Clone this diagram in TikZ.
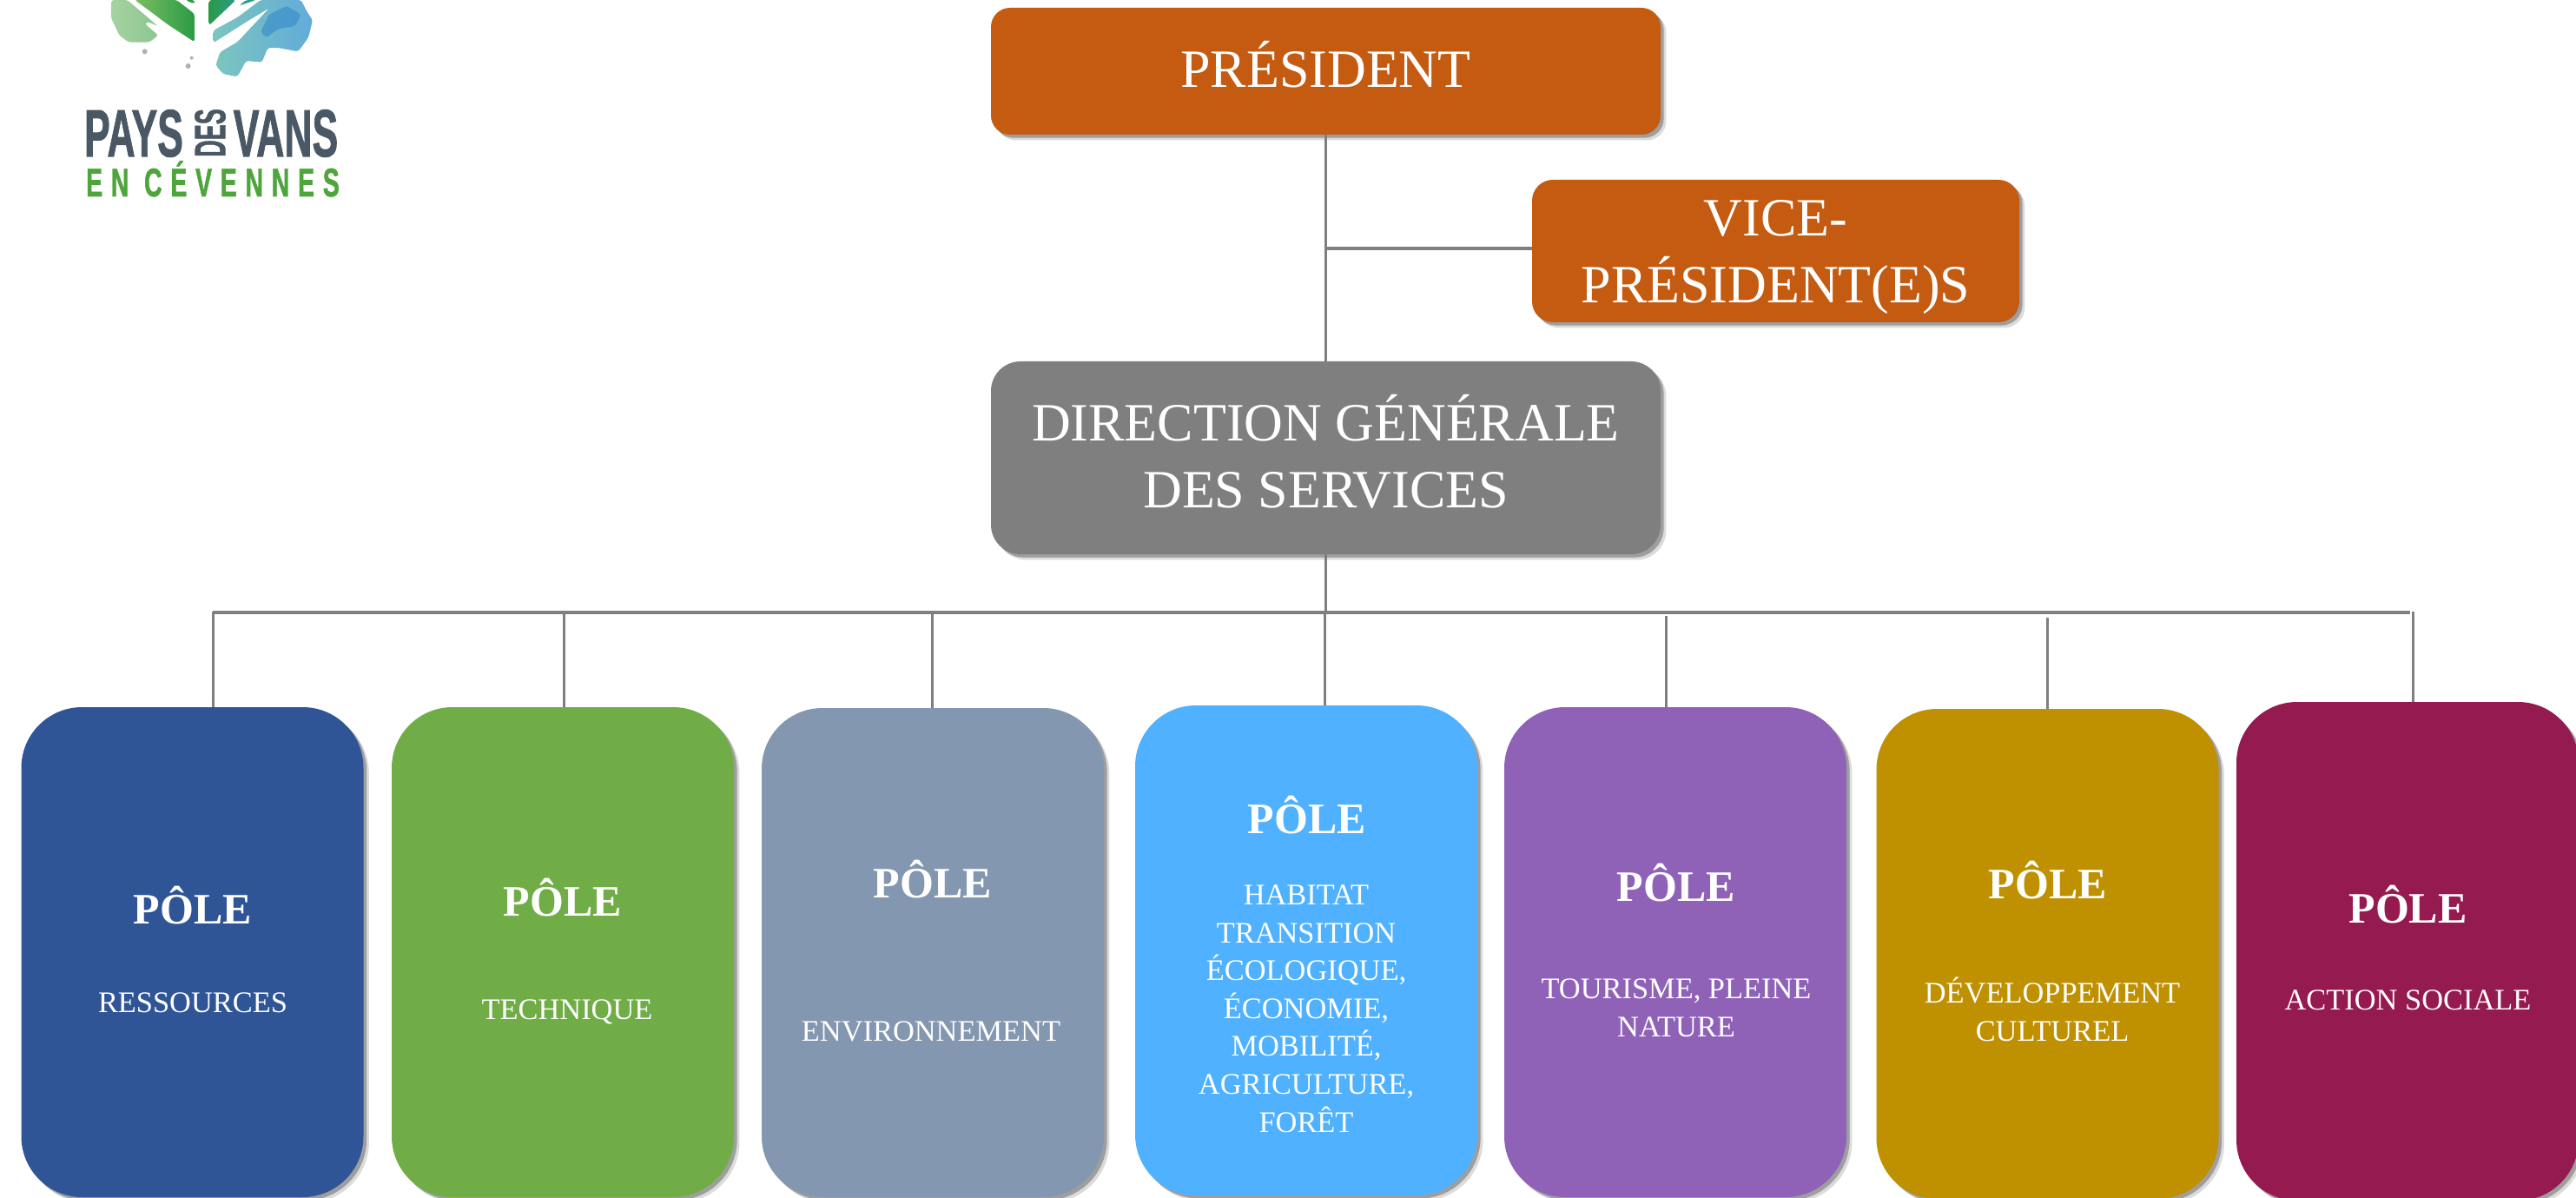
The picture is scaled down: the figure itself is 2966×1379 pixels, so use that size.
\documentclass[tikz,border=0pt]{standalone}
\usepackage{fontspec}
\setmainfont{Liberation Serif}
\newfontfamily\logofont{Liberation Sans}[BoldFont=*-Bold, BoldFeatures={FakeBold=1.5}]
\usetikzlibrary{shadows}

\definecolor{chiefOrange}{HTML}{C55A11}
\definecolor{chiefGrey}{HTML}{7F7F7F}
\definecolor{poleRessources}{HTML}{2F5597}
\definecolor{poleTechnique}{HTML}{70AD47}
\definecolor{poleEnvironnement}{HTML}{8497B0}
\definecolor{poleHabitat}{HTML}{4FB1FF}
\definecolor{poleTourisme}{HTML}{8F62B8}
\definecolor{poleCulture}{HTML}{BF9000}
\definecolor{poleSocial}{HTML}{951A4F}
\definecolor{logoSlate}{HTML}{4A5866}
\definecolor{logoGreen}{HTML}{4EA53C}
\definecolor{treeLight}{HTML}{A6D2A2}
\definecolor{treeSoft}{HTML}{8CC68F}
\definecolor{treeMid}{HTML}{7DBE62}
\definecolor{treeDeep}{HTML}{2A9A45}
\definecolor{treeTeal}{HTML}{7CC5BE}
\definecolor{treeSea}{HTML}{2F9A8C}
\definecolor{treeBlue}{HTML}{62ABDA}
\definecolor{treeNavy}{HTML}{3C8FCB}
\definecolor{treeSpeck}{HTML}{A9B4B0}

\tikzset{
  softshadow/.style={
    general shadow={fill=black, opacity=.14, shadow xshift=3.2pt, shadow yshift=-3.2pt},
    general shadow={fill=black, opacity=.28, shadow xshift=1.8pt, shadow yshift=-1.8pt}},
  chiefbox/.style={softshadow, text=white, align=center, inner sep=0pt,
    font={\fontsize{31}{38.5}\selectfont}},
  polebox/.style={softshadow, rounded corners=35pt, minimum width=197pt, inner sep=0pt},
  poletitle/.style={anchor=base, text=white, inner sep=0pt,
    font={\fontsize{25}{30}\selectfont\bfseries}},
  polesub/.style={anchor=base, text=white, align=center, inner sep=0pt,
    font={\fontsize{17.2}{21.8}\selectfont}},
  barline/.style={line width=2pt, chiefGrey},
  stemline/.style={line width=1.5pt, chiefGrey},
  logoname/.style={inner sep=0pt, text=logoSlate},
}

\begin{document}
\begin{tikzpicture}[x=0.5pt, y=-0.5pt]
    \useasboundingbox (0,0) rectangle (2966,1379);

    % logo, tree
    \begin{scope}[x=0.16667pt, y=-0.16667pt, rounded corners=1.5pt]
    \shade[left color=treeLight, right color=treeSoft]
    (385,0) -- (383,60) -- (412,122) -- (445,146) -- (515,146) -- (547,122) -- (500,82)
    -- (510,75) -- (545,90) -- (440,0) -- cycle;
    \shade[left color=treeMid, right color=treeDeep]
    (465,0) -- (610,0) -- (672,48) -- (672,145) -- (580,85) -- (520,40) -- cycle;
    \fill[treeDeep] (640,0) -- (672,0) -- (672,14) -- cycle;
    \shade[left color=treeDeep, right color=treeSea]
    (722,0) -- (815,0) -- (722,88) -- cycle;
    \fill[treeSea] (825,20) -- (850,0) -- (885,0) -- cycle;
    \shade[left color=treeTeal, right color=treeBlue]
    (737,105) -- (820,60) -- (900,0) -- (1040,0) -- (1060,40) -- (1080,70) -- (1065,130)
    -- (1030,178) -- (960,165) -- (925,165) -- (905,215) -- (850,210) -- (820,265)
    -- (770,255) -- (745,225) -- (760,180) -- (820,145) -- (930,28) -- (860,70)
    -- (737,148) -- cycle;
    \fill[treeNavy, opacity=.7]
    (930,50) -- (990,20) -- (1040,50) -- (1020,90) -- (960,100) -- (920,130) -- (900,110) -- cycle;
    \fill[treeSpeck] (500,178) circle (9);
    \fill[treeSpeck] (650,228) circle (9);
    \fill[treeSpeck] (662,200) circle (6);
    \end{scope}

    % logo, name
    \node[logoname, anchor=base] (logopays) at (154,180)
      {\scalebox{.58}[1]{\logofont\bfseries\fontsize{38.4}{40}\selectfont PAYS}};
    \node[logoname, anchor=base] (logovans) at (329,180)
      {\scalebox{.58}[1]{\logofont\bfseries\fontsize{38.4}{40}\selectfont VANS}};
    \node[logoname, rotate=90] (logodes) at (242,153)
      {\scalebox{.54}[1]{\logofont\bfseries\fontsize{25}{26}\selectfont DES}};
    \node[anchor=base, inner sep=0pt, text=logoGreen] (logocev) at (245,226)
      {\scalebox{.62}[1]{\logofont\bfseries\fontsize{23}{24}\selectfont\addfontfeatures{LetterSpace=34}EN CÉVENNES}};

    % top of the chart
    \node[chiefbox, fill=chiefOrange, rounded corners=11pt, minimum width=385.5pt, minimum height=73pt, text depth=8pt]
      (president) at (1526.5,82) {PRÉSIDENT};
    \node[chiefbox, fill=chiefOrange, rounded corners=12pt, minimum width=280.5pt, minimum height=82pt, text depth=0pt]
      (vice) at (2044.5,289) {VICE-\\PRÉSIDENT(E)S};
    \node[chiefbox, fill=chiefGrey, rounded corners=17pt, minimum width=385.5pt, minimum height=111pt, text depth=8pt]
      (direction) at (1526.5,527) {DIRECTION GÉNÉRALE\\DES SERVICES};

    \coordinate (barwest) at (245,705);
    \coordinate (bareast) at (2775,705);
    \coordinate (vicejoin) at (1528,286);
    \draw[stemline] (president.south) -- (direction.north);
    \draw[barline] (vicejoin) -- (vicejoin -| vice.west);
    \draw[stemline] (direction.south) -- (direction.south |- barwest);
    \draw[barline] (barwest) -- (bareast);

    % poles
    \foreach \name/\xmid/\ymid/\hgt/\col in {
      ressources/221.5/1096/564/poleRessources,
      technique/648/1096/564/poleTechnique,
      environnement/1074/1096.5/563/poleEnvironnement,
      habitat/1504/1094/564/poleHabitat,
      tourisme/1929/1096/564/poleTourisme,
      culture/2357.5/1098/564/poleCulture,
      social/2772/1095/574/poleSocial} {
    \node[polebox, fill=\col, minimum height=\hgt*0.5pt] (\name) at (\xmid,\ymid) {};
    }

    \foreach \name/\xstem/\ytop in {
      ressources/245/704, technique/649/705, environnement/1073/705, habitat/1525/705,
      tourisme/1918/709, culture/2357/711, social/2778.5/704} {
    \coordinate (stem\name) at (\xstem,\ytop);
    \draw[stemline] (stem\name) -- (stem\name |- \name.north);
    }

    \foreach \name/\xt/\yt in {
      ressources/222/1063, technique/648/1054, environnement/1074/1033, habitat/1505/959,
      tourisme/1930/1037, culture/2358/1034, social/2772.5/1062} {
    \node[poletitle] (title\name) at (\xt,\yt) {PÔLE};
    }

    \node[polesub] (subressources) at (222,1165) {RESSOURCES};
    \node[polesub] (subtechnique) at (653,1173) {TECHNIQUE};
    \node[polesub] (subenvironnement) at (1072,1198) {ENVIRONNEMENT};
    \node[polesub] (subhabitat) at (1504,1303)
      {HABITAT\\TRANSITION\\ÉCOLOGIQUE,\\ÉCONOMIE,\\MOBILITÉ,\\AGRICULTURE,\\FORÊT};
    \node[polesub] (subtourisme) at (1930,1193) {TOURISME, PLEINE\\NATURE};
    \node[polesub] (subculture) at (2363,1198) {DÉVELOPPEMENT\\CULTUREL};
    \node[polesub] (subsocial) at (2772.5,1162) {ACTION SOCIALE};

\end{tikzpicture}
\end{document}
